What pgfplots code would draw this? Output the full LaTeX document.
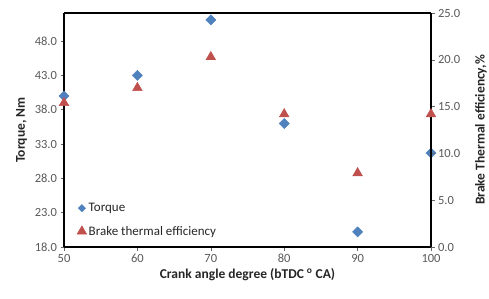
\documentclass[border=0pt]{standalone}
\usepackage{pgfplots}
\pgfplotsset{compat=1.18}
\usepackage{fontspec}
\setmainfont{Carlito}
\definecolor{tq}{HTML}{4F81BD}
\definecolor{bte}{HTML}{C0504D}
\definecolor{tk}{HTML}{595959}
\begin{document}
\begin{tikzpicture}
\pgfplotsset{
  base/.style={
    scale only axis, width=367pt, height=234pt,
    xmin=50, xmax=100, xtick={50,60,...,100},
    /pgf/number format/assume math mode=true,
    tick label style={font=\fontsize{12.5}{13}\selectfont, text=tk},
    label style={font=\fontsize{13.5}{15}\selectfont\bfseries, text=black!85},
    axis line style={line width=1.6pt},
    tick style={black!60, line width=0.6pt},
    major tick length=3.5pt,
    tick align=outside,
  }
}
\begin{axis}[base, name=ax,
  ymin=18, ymax=52.1, ytick={18,23,...,48},
  axis y line*=left, axis x line*=box,
  yticklabel style={/pgf/number format/.cd, fixed, fixed zerofill, precision=1},
  xlabel={Crank angle degree (bTDC \textsuperscript{o} CA)},
  ylabel={Torque, Nm},
  xtick pos=bottom,
  xlabel style={yshift=1pt},
  ylabel style={yshift=1pt},
]
\addplot[only marks, mark=square*, mark options={rotate=45}, mark size=3.6pt, color=tq] coordinates {
(50,40.0) (60,43.0) (70,51.1) (80,36.0) (90,20.2) (100,31.7)};
\end{axis}
\begin{axis}[base,
  ymin=0, ymax=25, ytick={0,5,...,25},
  axis y line*=right, axis x line=none,
  yticklabel style={/pgf/number format/.cd, fixed, fixed zerofill, precision=1},
  ylabel={Brake Thermal efficiency,\%},
  ylabel style={yshift=-8pt},
  legend style={draw=none, fill=none, at={(0.035,0.035)}, anchor=south west,
    font=\fontsize{13}{14}\selectfont, text=black!85, row sep=9pt,
    inner sep=0pt,
    /tikz/every even column/.append style={column sep=0pt}},
  legend cell align=left,
  legend image code/.code={\draw[#1] plot coordinates {(0.15cm,0cm)};},
]
\addlegendimage{only marks, mark=square*, mark options={rotate=45}, mark size=2.6pt, color=tq}
\addlegendentry{Torque}
\addplot[only marks, mark=triangle*, mark size=5.6pt, color=bte] coordinates {
(50,15.4) (60,17.0) (70,20.3) (80,14.2) (90,7.9) (100,14.2)};
\addlegendentry{Brake thermal efficiency}
\end{axis}
\pgfresetboundingbox
\path[use as bounding box] ([shift={(-64pt,-51pt)}]ax.south west) rectangle ([shift={(58pt,13pt)}]ax.north east);
\end{tikzpicture}
\end{document}
